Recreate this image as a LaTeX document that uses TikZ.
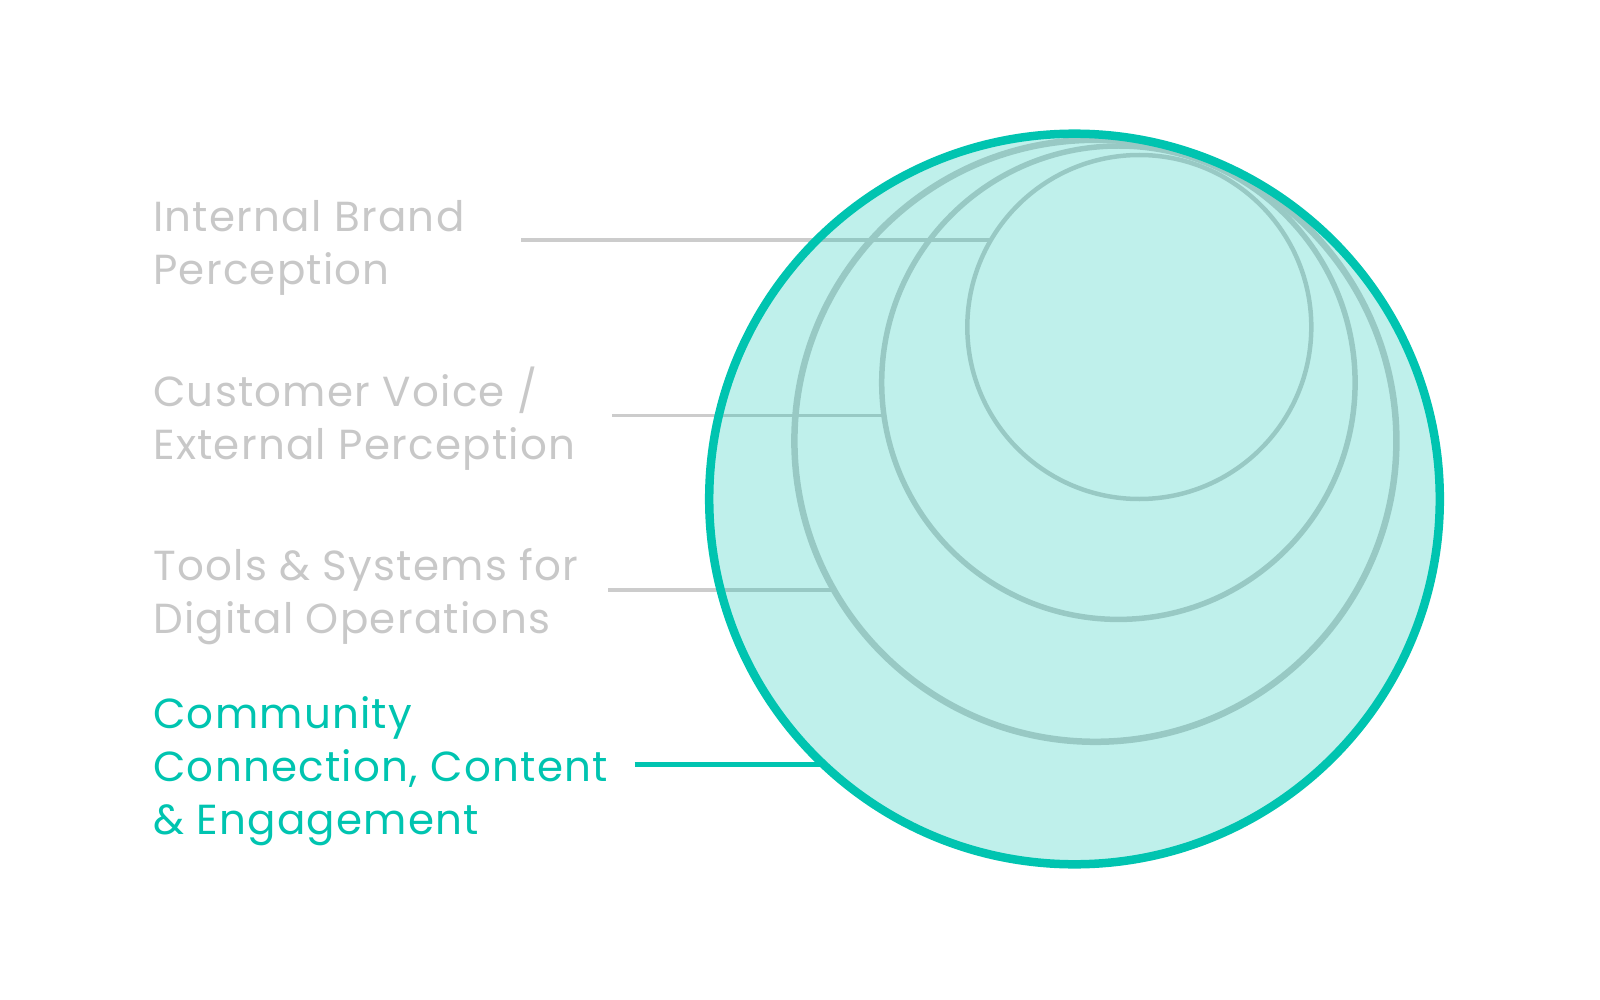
\documentclass[tikz,border=0pt]{standalone}
\usepackage{fontspec}
\setmainfont{Poppins}[LetterSpace=3]
\definecolor{teal1}{HTML}{00C4B0}
\definecolor{lightgray1}{HTML}{CCCCCC}
\definecolor{labelgray}{HTML}{C8C8C8}
\tikzset{
  ring/.style={circle, draw=lightgray1, inner sep=0pt, outer sep=0pt},
  lbl/.style={anchor=base west, inner sep=0pt, font=\fontsize{42}{53}\selectfont},
  glbl/.style={lbl, text=labelgray},
  tlbl/.style={lbl, text=teal1},
  gline/.style={draw=lightgray1, line width=3.5pt},
  tline/.style={draw=teal1, line width=5pt},
}
\begin{document}
\begin{tikzpicture}[x=1pt,y=-1pt]
\useasboundingbox (0,0) rectangle (1600,1000);
% labels
\node[glbl] (ib1) at (153,231.6) {Internal Brand};
\node[glbl] (ib2) at (153,284.7) {Perception};
\node[glbl] (cv1) at (153,406) {Customer Voice /};
\node[glbl] (cv2) at (153,459) {External Perception};
\node[glbl] (ts1) at (153,580.6) {Tools \& Systems for};
\node[glbl] (ts2) at (153,633.7) {Digital Operations};
\node[tlbl] (cc1) at (153,728.6) {Community};
\node[tlbl] (cc2) at (153,781.6) {Connection, Content};
\node[tlbl] (cc3) at (153,834.7) {\& Engagement};
% circles
\node[ring, line width=6.5pt, minimum size=602pt] (c2) at (1095.4,440.8) {};
\node[ring, line width=5.5pt, minimum size=473.4pt] (c3) at (1118.4,382.7) {};
\node[ring, line width=4.5pt, minimum size=344pt] (c4) at (1139.3,327) {};
\node[circle, inner sep=0pt, outer sep=0pt, minimum size=730.6pt] (c1) at (1074.5,499) {};
% connector starts
\coordinate (s1) at (521.4,239.8);
\coordinate (s2) at (612.2,415.3);
\coordinate (s3) at (608.2,589.8);
\coordinate (s4) at (634.7,764.3);
\draw[gline] (s1) -- (s1 -| c4.149.5);
\draw[gline] (s2) -- (s2 -| c3.187.9);
\draw[gline] (s3) -- (s3 -| c2.209.7);
% outer overlay
\fill[teal1, fill opacity=0.25] (c1.center) circle[radius=365.3pt];
\draw[teal1, line width=8.5pt] (c1.center) circle[radius=365.3pt];
\draw[tline] (s4) -- (s4 -| c1.226.6);
\end{tikzpicture}
\end{document}
